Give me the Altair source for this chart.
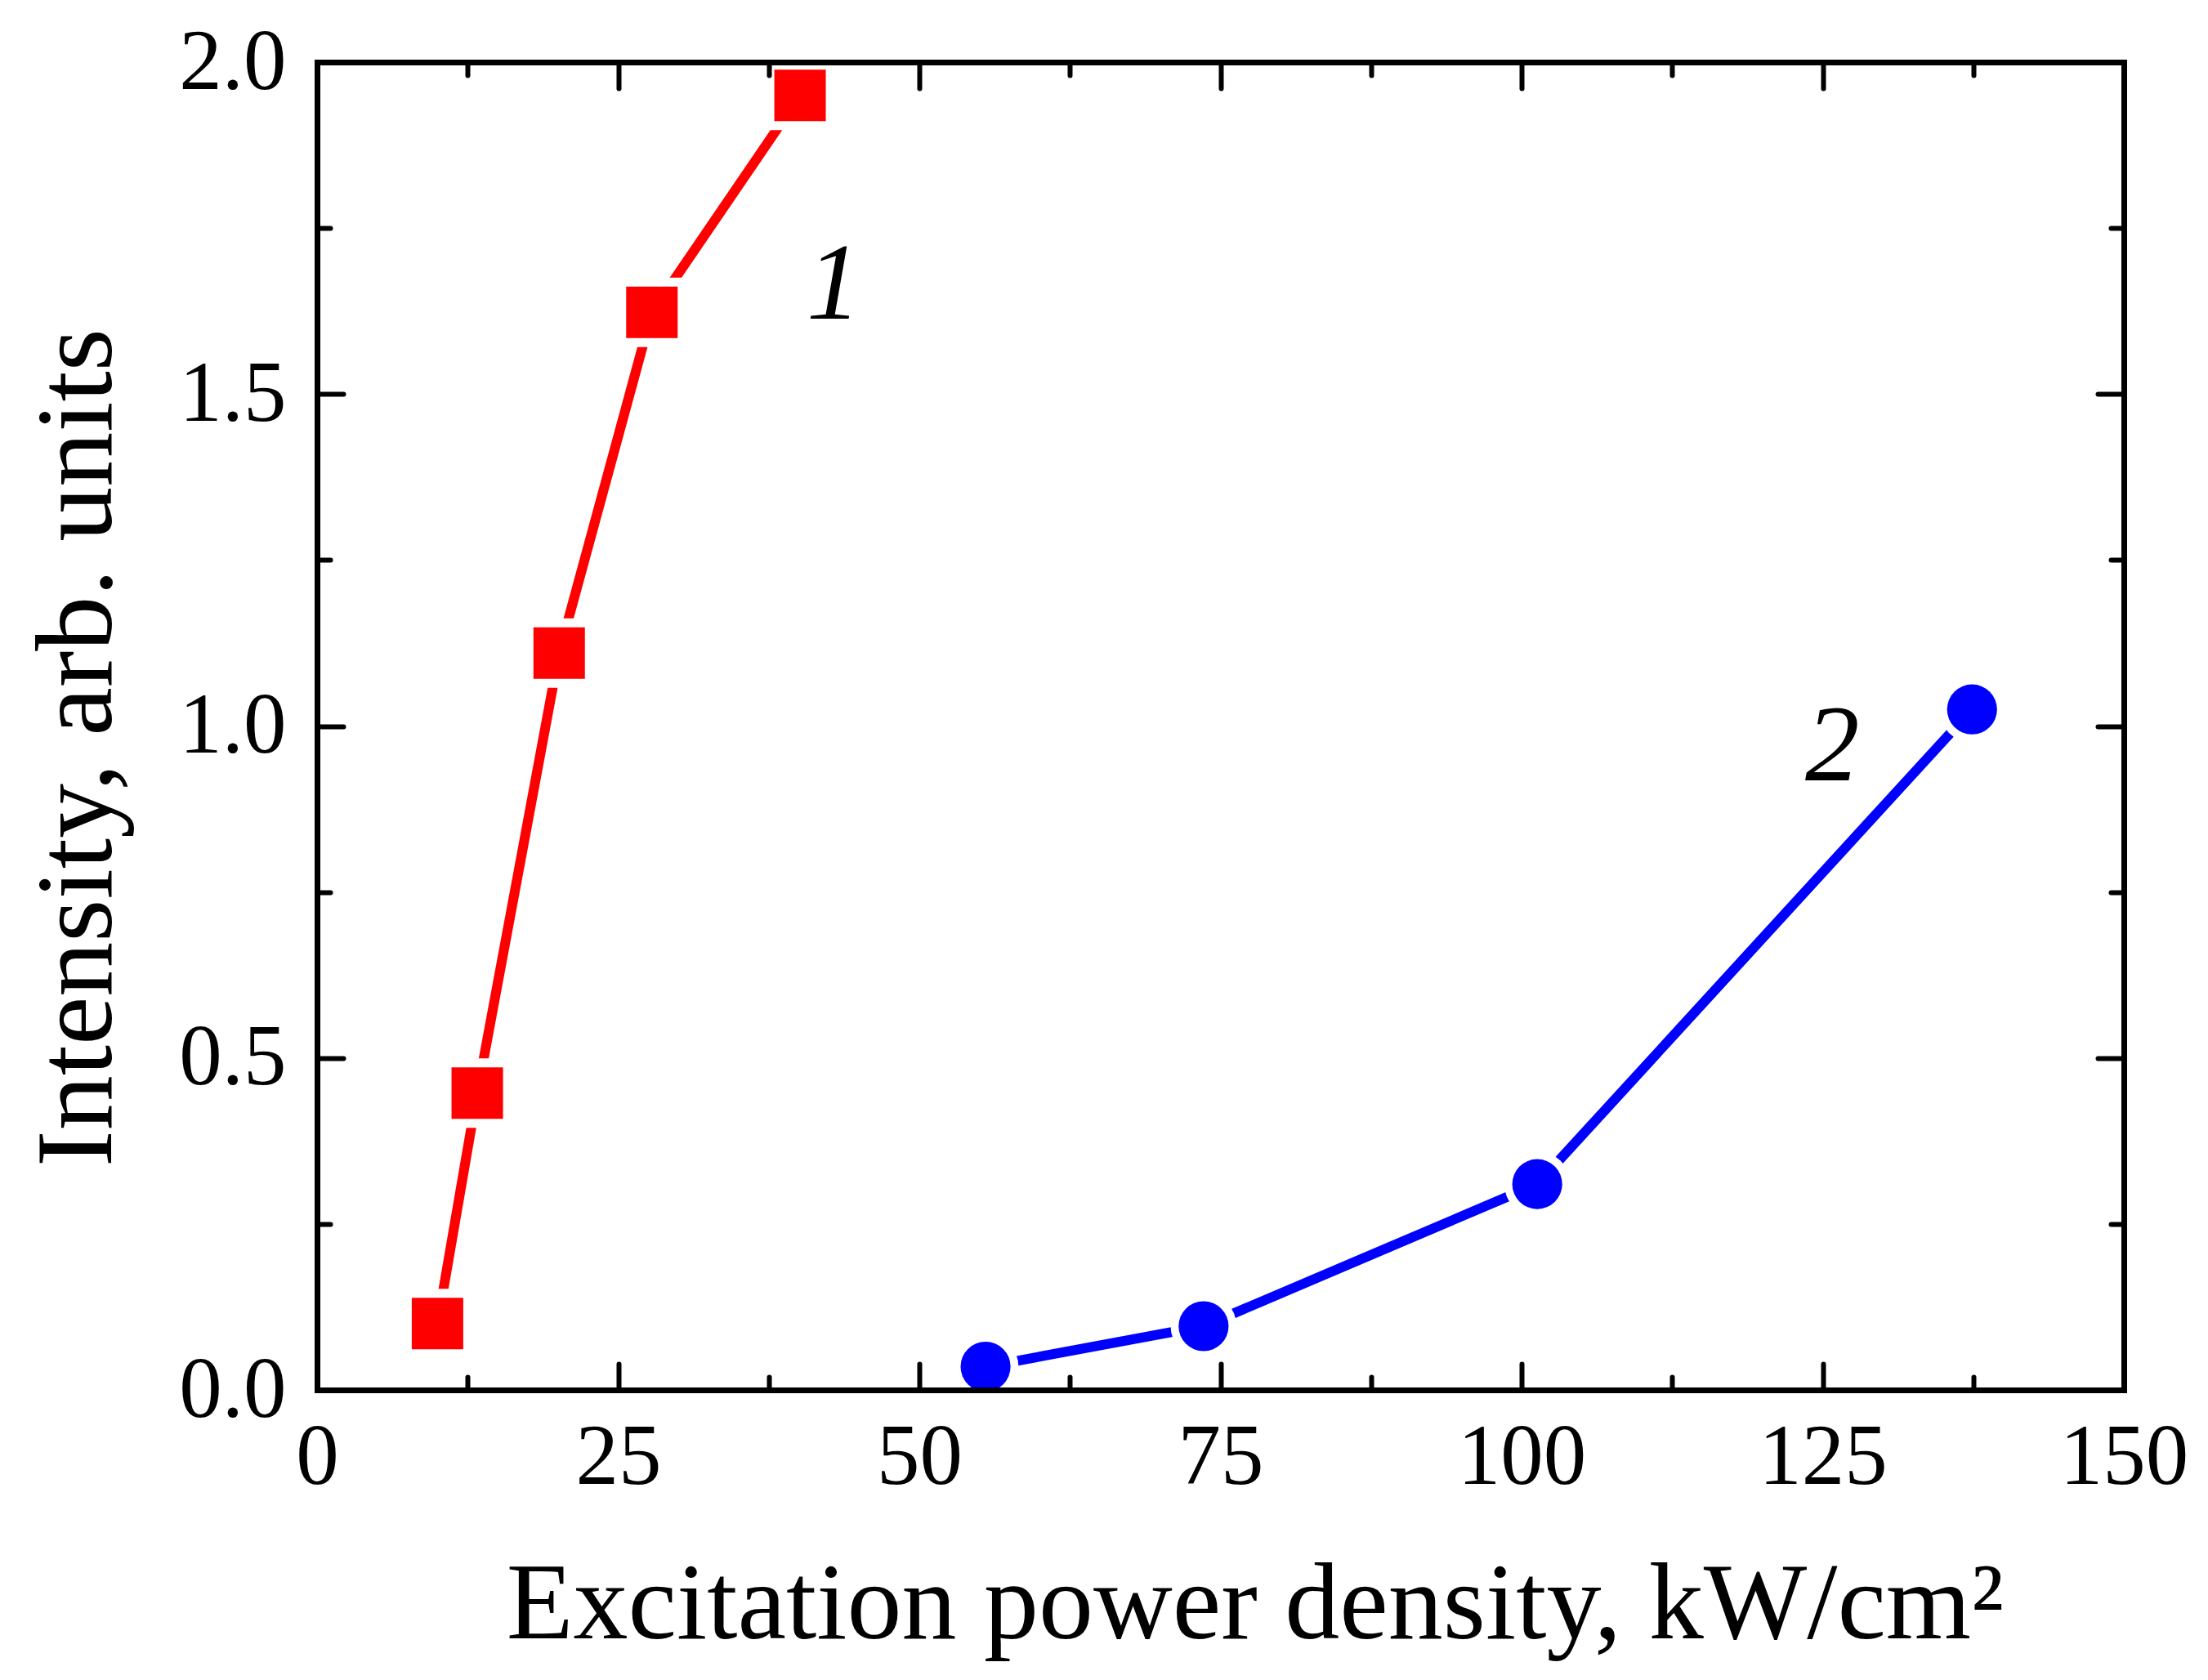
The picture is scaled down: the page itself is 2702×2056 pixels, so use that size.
import altair as alt
import pandas as pd

# ---- data ----
s1_x = [10.0, 13.3, 20.1, 27.8, 40.1]
s1_y = [0.100, 0.447, 1.110, 1.623, 1.950]
s2_x = [55.5, 73.6, 101.3, 137.4]
s2_y = [0.035, 0.096, 0.310, 1.025]
lab_text = ["1", "2"]
lab_x = [42.9, 125.8]
lab_y = [1.663, 0.968]
x_major = [0, 25, 50, 75, 100, 125, 150]
x_minor = [12.5, 37.5, 62.5, 87.5, 112.5, 137.5]
y_major = [0.0, 0.5, 1.0, 1.5, 2.0]
y_minor = [0.25, 0.75, 1.25, 1.75]

W, H = 2211, 1625
FONT = "Liberation Serif"
RED, BLUE = "#FF0000", "#0000FF"

df1 = pd.DataFrame({"x": s1_x, "y": s1_y})
df2 = pd.DataFrame({"x": s2_x, "y": s2_y})
dfl = pd.DataFrame({"x": lab_x, "y": lab_y, "t": lab_text})

xs = alt.Scale(domain=[0, 150], nice=False, zero=False)
ys = alt.Scale(domain=[0, 2], nice=False, zero=False)

common = dict(grid=False, zindex=1, tickColor="black", domainColor="black",
              tickWidth=6, domainWidth=7, tickCap="round", domainCap="square")

def tick_axis(orient, offset, values, size, domain=False):
    return alt.Axis(orient=orient, offset=offset, values=values, tickSize=size,
                    labels=False, title=None, domain=domain, ticks=True, **common)

# main labelled axes (no ticks; ticks drawn inward by the others)
ax_x_main = alt.Axis(orient="bottom", values=x_major, format="d", ticks=False, tickSize=0,
                     labelFont=FONT, labelFontSize=105, labelPadding=31, labelColor="black",
                     labelFlush=False, labelOverlap=False,
                     title="Excitation power density, kW/cm²", titleFont=FONT,
                     titleFontSize=134, titleFontWeight="normal", titlePadding=62,
                     titleColor="black", titleX=W / 2 + 42, domain=True, **common)
ax_y_main = alt.Axis(orient="left", values=y_major, format=".1f", ticks=False, tickSize=0,
                     labelFont=FONT, labelFontSize=105, labelPadding=38, labelColor="black",
                     labelFlush=False, labelOverlap=False,
                     title="Intensity, arb. units", titleFont=FONT,
                     titleFontSize=134, titleFontWeight="normal", titlePadding=55,
                     titleColor="black", titleY=H / 2 + 26, domain=True, **common)

# top frame + inward major ticks at top / right frame + inward major ticks at right
ax_x_top_major = tick_axis("bottom", -H, x_major, 32, domain=True)
ax_y_right_major = tick_axis("left", -W, y_major, 32, domain=True)
ax_x_top_minor = tick_axis("bottom", -H, x_minor, 16)
ax_y_right_minor = tick_axis("left", -W, y_minor, 16)
ax_x_bot_major = tick_axis("top", -H, x_major, 32)
ax_y_left_major = tick_axis("right", -W, y_major, 32)
ax_x_bot_minor = tick_axis("top", -H, x_minor, 16)
ax_y_left_minor = tick_axis("right", -W, y_minor, 16)

def enc(xa, ya):
    return dict(x=alt.X("x:Q", scale=xs, axis=xa), y=alt.Y("y:Q", scale=ys, axis=ya))

line1 = alt.Chart(df1).mark_line(color=RED, strokeWidth=12, strokeCap="round").encode(
    **enc(ax_x_main, ax_y_main))
line2 = alt.Chart(df2).mark_line(color=BLUE, strokeWidth=12, strokeCap="round").encode(
    **enc(ax_x_top_major, ax_y_right_major))
halo1 = alt.Chart(df1).mark_point(shape="square", filled=True, color="white", opacity=1,
                                  size=7225).encode(**enc(ax_x_top_minor, ax_y_right_minor))
halo2 = alt.Chart(df2).mark_point(shape="circle", filled=True, color="white", opacity=1,
                                  size=6504).encode(**enc(ax_x_bot_major, ax_y_left_major))
pts1 = alt.Chart(df1).mark_point(shape="square", filled=True, color=RED, opacity=1,
                                 size=3969).encode(**enc(ax_x_bot_minor, ax_y_left_minor))
pts2 = alt.Chart(df2).mark_point(shape="circle", filled=True, color=BLUE, opacity=1,
                                 size=3739).encode(**enc(None, None))
labels = alt.Chart(dfl).mark_text(font=FONT, fontSize=133, fontStyle="italic", color="black",
                                  align="center", baseline="middle").encode(
    text="t:N", **enc(None, None))

chart = alt.layer(line1, line2, halo1, halo2, pts1, pts2, labels).resolve_axis(
    x="independent", y="independent"
).properties(
    width=W, height=H, background="white",
    padding={"left": 20, "top": 16, "right": 10, "bottom": 5},
).configure_view(stroke=None)

chart.save("out.html", embed_options={"renderer": "svg", "actions": False})
